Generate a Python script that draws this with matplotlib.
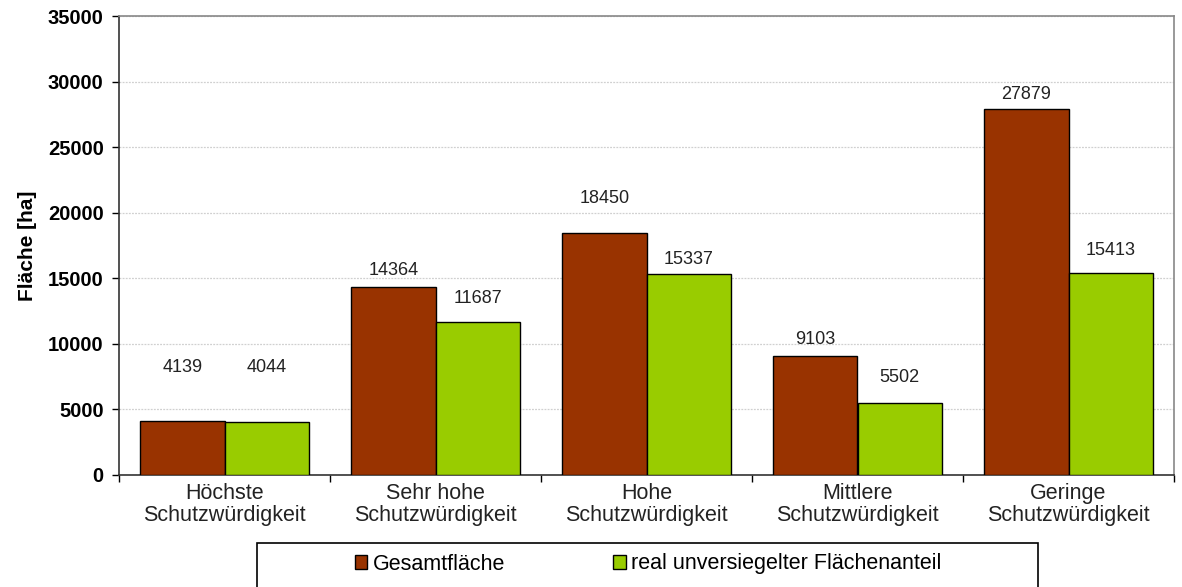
import matplotlib
matplotlib.use("Agg")
import matplotlib.pyplot as plt
from matplotlib.patches import Rectangle
import numpy as np

categories = ["Höchste\nSchutzwürdigkeit", "Sehr hohe\nSchutzwürdigkeit", "Hohe\nSchutzwürdigkeit",
              "Mittlere\nSchutzwürdigkeit", "Geringe\nSchutzwürdigkeit"]
gesamt = [4139, 14364, 18450, 9103, 27879]
unversiegelt = [4044, 11687, 15337, 5502, 15413]
series_names = ["Gesamtfläche", "real unversiegelter Flächenanteil"]
yticks = [0, 5000, 10000, 15000, 20000, 25000, 30000, 35000]

# label offsets above bar tops (pixels), layout only
off_g = [53, 16, 35, 16, 15]
off_u = [54, 23, 14, 25, 22]

plt.rcParams['font.family'] = ['Liberation Sans', 'DejaVu Sans']

fig = plt.figure(figsize=(11.82, 5.87), dpi=100)
ax = fig.add_axes([119/1182, 1-475/587, (1174-119)/1182, (475-16)/587])

x = np.arange(len(categories))
w = 0.4
red = "#993300"
green = "#99CC00"
b1 = ax.bar(x - w/2, gesamt, w, color=red, edgecolor="black", linewidth=1, zorder=3, label=series_names[0])
b2 = ax.bar(x + w/2, unversiegelt, w, color=green, edgecolor="black", linewidth=1, zorder=3, label=series_names[1])

for xi, v, o in zip(x - w/2, gesamt, off_g):
    ax.annotate(str(v), (xi, v), xytext=(0, o), textcoords="offset pixels",
                ha="center", va="center", fontsize=13, color="#222222")
for xi, v, o in zip(x + w/2, unversiegelt, off_u):
    ax.annotate(str(v), (xi, v), xytext=(0, o), textcoords="offset pixels",
                ha="center", va="center", fontsize=13, color="#222222")

ax.set_xlim(-0.5, len(categories) - 0.5)
ax.set_ylim(0, 35000)
ax.set_yticks(yticks)
ax.set_yticklabels([str(t) for t in yticks], fontsize=14.5, fontweight="bold")
ax.yaxis.grid(True, color="#d0d0d0", linestyle=(0, (1.5, 1)), linewidth=0.9, zorder=0)

ax.set_xticks(np.arange(-0.5, len(categories), 1.0))
ax.set_xticklabels([])
ax.set_xticks(x, minor=True)
ax.set_xticklabels(categories, minor=True, fontsize=15.5, color="#222222", linespacing=1.05)
ax.tick_params(axis="x", which="minor", length=0, pad=6)
ax.tick_params(axis="x", which="major", length=5, width=1, direction="out")
ax.tick_params(axis="y", length=5, width=1, direction="out", pad=6)

for s in ["left", "bottom"]:
    ax.spines[s].set_color("#333333")
    ax.spines[s].set_linewidth(1.2)
for s in ["top", "right"]:
    ax.spines[s].set_color("#888888")
    ax.spines[s].set_linewidth(1.2)

ax.set_ylabel("Fläche [ha]", fontsize=15, fontweight="bold", labelpad=8)

# legend box
fig.patches.append(Rectangle((257/1182, 1-600/587), 781/1182, 57/587, transform=fig.transFigure,
                             facecolor="white", edgecolor="black", linewidth=1.2))
leg = fig.legend(handles=[b1, b2], labels=series_names, loc="center", ncol=2,
                 bbox_to_anchor=(648/1182, 1-564/587), frameon=False, fontsize=15.5,
                 handlelength=0.6, handleheight=0.6, handletextpad=0.25, columnspacing=5.0)

fig.savefig("out.png", dpi=100)
